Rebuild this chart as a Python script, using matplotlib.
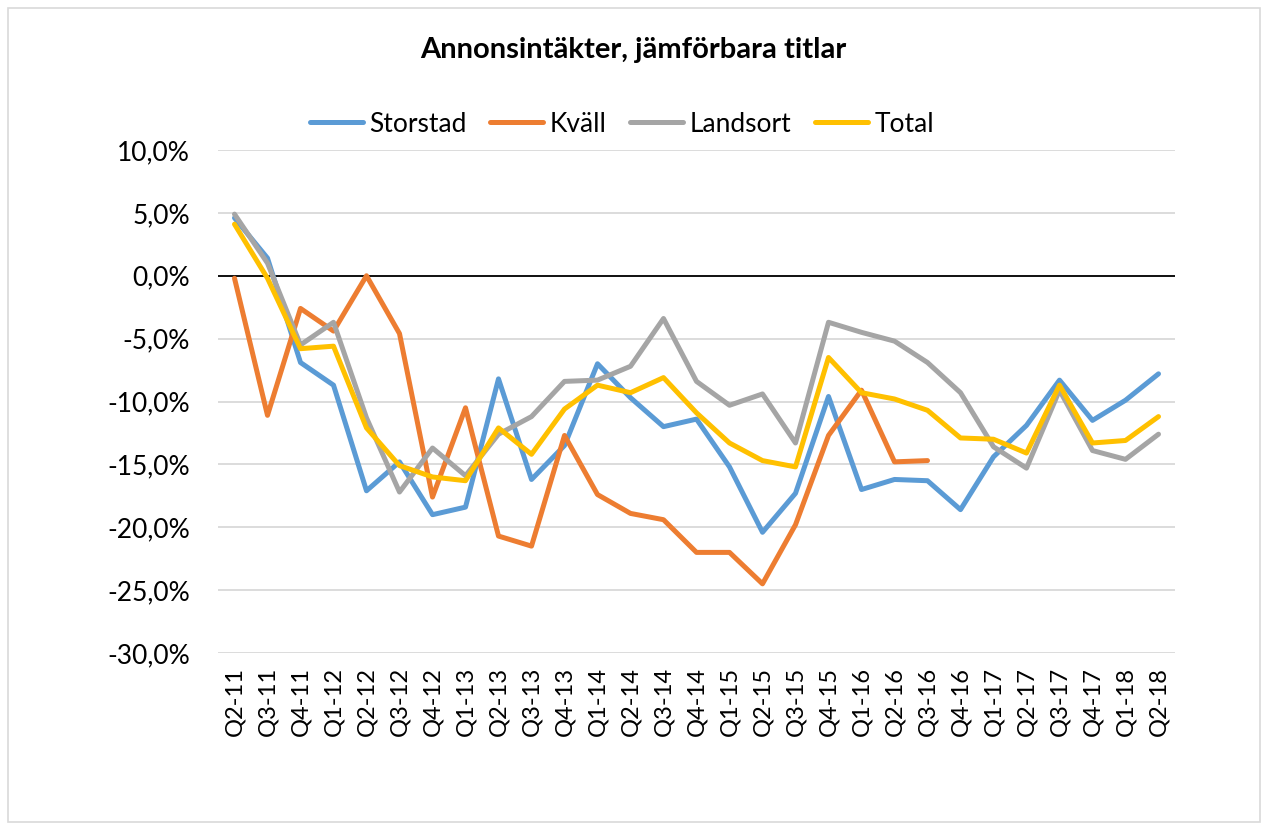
import numpy as np
import matplotlib
matplotlib.use("Agg")
import matplotlib.pyplot as plt
from matplotlib.patches import Rectangle
from matplotlib.ticker import FuncFormatter

plt.rcParams['font.family'] = ['Lato', 'DejaVu Sans']

quarters = ["Q2-11", "Q3-11", "Q4-11", "Q1-12", "Q2-12", "Q3-12", "Q4-12", "Q1-13",
            "Q2-13", "Q3-13", "Q4-13", "Q1-14", "Q2-14", "Q3-14", "Q4-14", "Q1-15",
            "Q2-15", "Q3-15", "Q4-15", "Q1-16", "Q2-16", "Q3-16", "Q4-16", "Q1-17",
            "Q2-17", "Q3-17", "Q4-17", "Q1-18", "Q2-18"]

storstad = [4.6, 1.4, -6.9, -8.7, -17.1, -14.8, -19.0, -18.4, -8.2, -16.2, -13.5, -7.0,
            -9.7, -12.0, -11.4, -15.2, -20.4, -17.3, -9.6, -17.0, -16.2, -16.3, -18.6,
            -14.4, -11.9, -8.3, -11.5, -9.9, -7.8]
kvall = [-0.2, -11.1, -2.6, -4.4, 0.0, -4.6, -17.6, -10.5, -20.7, -21.5, -12.7, -17.4,
         -18.9, -19.4, -22.0, -22.0, -24.5, -19.8, -12.7, -9.1, -14.8, -14.7,
         None, None, None, None, None, None, None]
landsort = [4.9, 1.0, -5.5, -3.7, -11.3, -17.2, -13.7, -15.9, -12.6, -11.2, -8.4, -8.3,
            -7.2, -3.4, -8.4, -10.3, -9.4, -13.3, -3.7, -4.5, -5.2, -6.9, -9.3,
            -13.6, -15.3, -9.1, -13.9, -14.6, -12.6]
total = [4.1, -0.2, -5.8, -5.6, -12.1, -15.1, -16.0, -16.3, -12.1, -14.2, -10.6, -8.7,
         -9.3, -8.1, -10.9, -13.3, -14.7, -15.2, -6.5, -9.3, -9.8, -10.7, -12.9,
         -13.0, -14.1, -8.7, -13.3, -13.1, -11.2]

series = [("Storstad", storstad, "#5B9BD5"),
          ("Kväll", kvall, "#ED7D31"),
          ("Landsort", landsort, "#A5A5A5"),
          ("Total", total, "#FFC000")]

fig = plt.figure(figsize=(12.66, 8.25), dpi=100)
fig.patches.append(Rectangle((8/1266, 3/825), 1252/1266, 814/825, transform=fig.transFigure,
                             fill=False, edgecolor="#D9D9D9", linewidth=1.2))
ax = fig.add_axes([218/1266, 1 - 653/825, (1175-218)/1266, (653-150)/825])

x = np.arange(len(quarters))
for name, vals, col in series:
    v = np.array([np.nan if a is None else a for a in vals], dtype=float)
    ax.plot(x, v, color=col, lw=3.6, label=name, solid_joinstyle='round', solid_capstyle='round', zorder=3)

ax.set_ylim(-30, 10)
ax.set_xlim(-0.5, len(quarters) - 0.5)
ax.set_yticks(np.arange(-30, 10.1, 5))
ax.yaxis.set_major_formatter(FuncFormatter(lambda v, p: f"{v:.1f}%".replace(".", ",")))
ax.grid(axis='y', color="#D9D9D9", lw=1.3, zorder=0)
ax.axhline(0, color="black", lw=1.3, zorder=2)
ax.set_xticks(x)
ax.set_xticklabels(quarters, rotation=90, fontsize=17)
ax.tick_params(axis='y', labelsize=19, length=0, pad=20)
ax.tick_params(axis='x', length=0, pad=10)
for s in ax.spines.values():
    s.set_visible(False)

fig.text(0.5, 1 - 50/825, "Annonsintäkter, jämförbara titlar", ha='center', va='center',
         fontsize=21, fontweight='bold')
fig.legend(loc='center', bbox_to_anchor=(622/1266, 1 - 124/825), ncol=4, frameon=False,
           fontsize=19, handlelength=2.0, columnspacing=0.9, handletextpad=0.25)

fig.savefig("out.png", dpi=100)
